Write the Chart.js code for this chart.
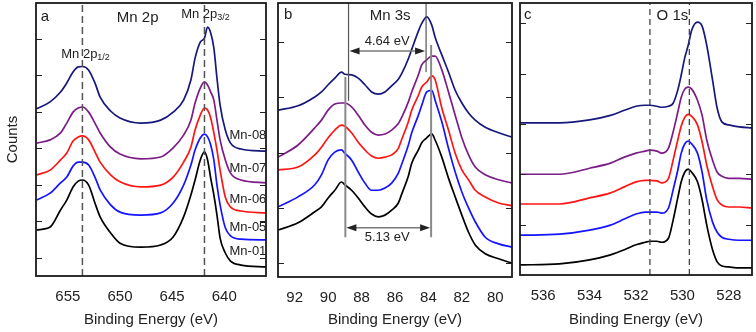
<!DOCTYPE html>
<html>
<head>
<meta charset="utf-8">
<script src="https://cdn.jsdelivr.net/npm/chart.js@4.4.0/dist/chart.umd.min.js"></script>
<style>
    body { margin: 0; background: #fff; }
    #wrap { position: relative; width: 756px; height: 332px; }
    canvas { position: absolute; top: 0; }
</style>
</head>
<body>
<div id="wrap">
    <canvas id="mn2p" width="270" height="332" style="left:0"></canvas>
    <canvas id="mn3s" width="246" height="332" style="left:270px"></canvas>
    <canvas id="o1s" width="240" height="332" style="left:516px"></canvas>
</div>
<script>
// samples, bottom to top
const samples = ['Mn-01', 'Mn-05', 'Mn-06', 'Mn-07', 'Mn-08'];

// panel a - Mn 2p
const mn2pEnergy = [658.0, 656.7, 655.7, 655.1, 654.5, 654.0, 653.6, 653.0, 652.4, 651.9, 650.9, 650.0, 648.0, 646.1, 644.9, 643.9, 643.2, 642.8, 642.3, 641.9, 641.6, 641.3, 641.0, 640.7, 640.4, 639.9, 639.4, 638.4, 636.0];
const mn2pMn01 = [12.6, 13.4, 18.1, 20.8, 24.4, 26.0, 26.3, 24.9, 20.0, 16.2, 11.8, 9.0, 7.9, 8.5, 10.7, 16.2, 22.2, 26.3, 31.8, 34.0, 31.8, 26.8, 22.2, 16.7, 10.4, 6.3, 4.1, 3.0, 2.5];
const mn2pMn05 = [20.8, 22.7, 25.5, 27.1, 30.1, 31.2, 31.2, 30.4, 27.1, 23.6, 19.5, 17.5, 16.7, 17.3, 20.0, 24.9, 30.4, 34.5, 37.8, 38.9, 38.1, 35.9, 31.8, 24.9, 19.5, 13.2, 11.0, 10.1, 9.9];
const mn2pMn06 = [27.7, 29.0, 31.8, 33.7, 37.0, 38.1, 38.4, 37.3, 34.0, 31.2, 27.7, 25.8, 24.4, 24.9, 27.1, 31.2, 35.3, 40.0, 44.1, 46.0, 45.5, 43.3, 39.2, 34.5, 29.0, 21.6, 18.9, 17.8, 17.3];
const mn2pMn07 = [36.4, 37.3, 39.2, 41.9, 44.9, 46.0, 46.3, 44.9, 41.9, 39.2, 35.3, 33.4, 32.1, 32.6, 35.1, 38.6, 42.7, 47.4, 51.5, 53.2, 52.3, 50.4, 48.2, 42.7, 37.3, 31.8, 28.2, 26.3, 25.5];
const mn2pMn08 = [45.8, 47.7, 50.4, 52.9, 55.9, 57.3, 57.4, 56.4, 52.9, 49.0, 45.2, 43.3, 41.9, 42.7, 44.9, 48.2, 53.7, 59.7, 64.1, 65.2, 68.2, 66.6, 62.5, 54.2, 46.8, 40.0, 36.4, 34.8, 34.2];
const mn2pPeaks = [653.6, 641.9];
const mn2pXTicks = [655, 650, 645, 640];
const mn2pYTicks = [5, 15, 25, 35, 45, 55, 65];

// panel b - Mn 3s
const mn3sEnergy = [93.0, 91.8, 90.8, 90.4, 90.0, 89.6, 89.2, 89.0, 88.6, 88.2, 87.8, 87.4, 87.0, 86.6, 86.2, 85.8, 85.6, 85.2, 85.0, 84.6, 84.4, 84.1, 83.8, 83.6, 83.2, 82.8, 82.4, 82.0, 81.6, 81.2, 80.6, 79.8, 79.0];
const mn3sMn01 = [8.5, 9.8, 11.8, 12.7, 14.3, 15.7, 17.2, 16.7, 15.7, 14.3, 12.7, 11.4, 10.9, 11.2, 12.1, 13.4, 15.0, 18.3, 20.6, 23.0, 24.3, 25.2, 25.9, 24.8, 21.7, 17.9, 14.5, 11.2, 8.1, 5.8, 4.2, 3.3, 2.5];
const mn3sMn05 = [12.7, 14.5, 16.7, 18.5, 21.2, 22.6, 23.0, 22.4, 21.2, 19.0, 17.0, 15.7, 15.7, 16.1, 17.0, 18.8, 20.4, 23.9, 26.1, 29.3, 31.1, 33.5, 33.8, 32.0, 28.1, 23.3, 19.0, 15.4, 12.5, 10.0, 7.2, 6.0, 5.4];
const mn3sMn06 = [19.4, 19.9, 22.1, 23.5, 25.2, 26.6, 27.5, 27.3, 26.1, 24.4, 23.0, 21.9, 21.5, 21.7, 22.1, 23.3, 24.9, 28.1, 30.2, 32.9, 34.4, 35.3, 36.4, 35.7, 30.6, 26.6, 22.4, 19.4, 17.6, 15.7, 14.5, 13.4, 12.9];
const mn3sMn07 = [21.7, 23.9, 27.0, 28.4, 30.2, 31.3, 31.5, 31.5, 30.8, 29.3, 27.5, 26.2, 25.7, 25.9, 26.6, 27.8, 28.9, 31.7, 33.5, 36.6, 38.4, 39.3, 40.0, 40.0, 37.5, 33.5, 29.3, 25.2, 22.1, 19.9, 18.5, 17.6, 17.0];
const mn3sMn08 = [30.2, 31.0, 32.6, 33.5, 34.8, 36.0, 37.1, 36.7, 36.6, 36.0, 34.8, 33.5, 33.1, 33.5, 34.6, 35.8, 36.8, 39.5, 41.2, 44.5, 45.9, 47.1, 45.6, 43.4, 40.2, 37.1, 33.8, 31.5, 29.7, 28.4, 27.1, 26.1, 25.3];
const mn3sSplitTop = [88.78, 84.14];   // 4.64 eV
const mn3sSplitBottom = [88.97, 83.84]; // 5.13 eV
const mn3sXTicks = [92, 90, 88, 86, 84, 82, 80];
const mn3sYTicks = [2.5, 12.5, 22.5, 32.5, 42.5];

// panel c - O 1s
const o1sEnergy = [537.0, 535.3, 534.0, 533.1, 532.5, 532.0, 531.6, 531.4, 531.1, 530.9, 530.6, 530.4, 530.2, 530.05, 529.9, 529.75, 529.6, 529.35, 529.15, 528.95, 528.7, 528.5, 528.3, 528.0, 527.55, 527.0];
const o1sMn01 = [2.0, 2.2, 3.0, 4.0, 5.0, 6.0, 6.5, 6.7, 6.7, 6.5, 7.3, 10.9, 15.3, 18.5, 20.4, 21.0, 20.4, 18.5, 14.9, 9.9, 5.0, 2.6, 1.8, 1.6, 1.4, 1.4];
const o1sMn05 = [7.9, 8.1, 8.9, 9.9, 11.1, 12.1, 12.5, 12.5, 12.5, 12.3, 13.3, 16.9, 20.8, 24.2, 26.0, 26.6, 26.0, 24.2, 20.4, 14.9, 10.5, 8.5, 7.5, 7.1, 6.9, 6.9];
const o1sMn06 = [14.1, 14.1, 15.3, 16.3, 17.5, 18.5, 18.8, 18.8, 18.7, 18.3, 19.2, 22.8, 26.8, 29.6, 31.3, 31.9, 31.5, 29.8, 26.4, 21.8, 17.5, 14.9, 13.9, 13.5, 13.5, 13.3];
const o1sMn07 = [20.0, 20.0, 21.2, 22.2, 23.4, 24.2, 24.6, 24.8, 24.6, 24.2, 25.2, 28.4, 32.3, 35.3, 36.9, 37.3, 36.9, 34.7, 31.7, 26.8, 22.8, 20.4, 19.6, 19.2, 19.2, 19.0];
const o1sMn08 = [30.2, 30.2, 30.8, 31.7, 32.7, 33.5, 33.7, 33.7, 33.5, 33.3, 33.5, 34.1, 36.7, 39.7, 43.1, 45.6, 48.6, 50.2, 49.4, 45.6, 38.7, 33.1, 30.4, 29.8, 29.4, 29.2];
const o1sPeaks = [531.4, 529.7];
const o1sXTicks = [536, 534, 532, 530, 528];
const o1sYTicks = [10, 20, 30, 40, 50];

const lineColors = ['#000000', '#1414ff', '#ff1414', '#7c1c88', '#17177c'];
const FONT = "'Liberation Sans', Arial, sans-serif";

function spectra(xs, sets) {
    return sets.map((ys, i) => ({
        label: samples[i],
        data: xs.map((x, k) => ({ x: x, y: ys[k] })),
        borderColor: lineColors[i],
        borderWidth: 1.7,
        pointRadius: 0,
        cubicInterpolationMode: 'monotone',
        order: 5 - i
    }));
}

function vline(x, y1, y2, color, width, dash) {
    return {
        data: [{ x: x, y: y1 }, { x: x, y: y2 }],
        borderColor: color,
        borderWidth: width,
        borderDash: dash || [],
        pointRadius: 0,
        tension: 0,
        order: 0
    };
}

// frame, inner ticks, arrows and labels
const frame = {
    id: 'frame',
    afterDraw(chart, args, o) {
        const { ctx, chartArea: a } = chart;
        const x = chart.scales.x, y = chart.scales.y;
        ctx.save();
        ctx.strokeStyle = '#222';
        ctx.lineWidth = 1.2;
        (o.yTicks || []).forEach(v => {
            const py = Math.round(y.getPixelForValue(v)) + 0.5;
            ctx.beginPath();
            ctx.moveTo(a.left, py); ctx.lineTo(a.left + 6, py);
            ctx.moveTo(a.right, py); ctx.lineTo(a.right - 6, py);
            ctx.stroke();
        });
        ctx.lineWidth = 1.8;
        ctx.strokeStyle = '#1a1a1a';
        ctx.strokeRect(a.left, a.top, a.right - a.left, a.bottom - a.top);

        (o.arrows || []).forEach(r => {
            const x1 = x.getPixelForValue(r.x1), x2 = x.getPixelForValue(r.x2);
            const py = y.getPixelForValue(r.y);
            ctx.strokeStyle = '#7a7a7a';
            ctx.lineWidth = 1.5;
            ctx.beginPath(); ctx.moveTo(x1 + 6, py); ctx.lineTo(x2 - 6, py); ctx.stroke();
            ctx.fillStyle = '#222';
            ctx.beginPath();
            ctx.moveTo(x1 + 1, py); ctx.lineTo(x1 + 11, py - 3.5); ctx.lineTo(x1 + 11, py + 3.5);
            ctx.closePath(); ctx.fill();
            ctx.beginPath();
            ctx.moveTo(x2 - 1, py); ctx.lineTo(x2 - 11, py - 3.5); ctx.lineTo(x2 - 11, py + 3.5);
            ctx.closePath(); ctx.fill();
        });

        (o.texts || []).forEach(t => {
            const px = x.getPixelForValue(t.x), py = y.getPixelForValue(t.y);
            const main = t.size + 'px ' + FONT, small = Math.round(t.size * 0.72) + 'px ' + FONT;
            ctx.font = main;
            const w = ctx.measureText(t.text).width;
            let sw = 0;
            if (t.sub) { ctx.font = small; sw = ctx.measureText(t.sub).width; }
            const left = t.center ? px - (w + sw) / 2 : px;
            ctx.fillStyle = '#222';
            ctx.textAlign = 'left';
            ctx.textBaseline = 'middle';
            ctx.font = main;
            ctx.fillText(t.text, left, py);
            if (t.sub) {
                ctx.font = small;
                ctx.fillText(t.sub, left + w, py + t.size * 0.3);
            }
        });
        ctx.restore();
    }
};

function makeChart(id, c) {
    return new Chart(document.getElementById(id), {
        type: 'line',
        data: { datasets: c.datasets },
        options: {
            responsive: false,
            animation: false,
            devicePixelRatio: 1,
            layout: { padding: c.padding },
            plugins: {
                legend: { display: false },
                tooltip: { enabled: false },
                frame: { yTicks: c.yTicks, texts: c.texts, arrows: c.arrows || [] }
            },
            scales: {
                x: {
                    type: 'linear', reverse: true, min: c.xMin, max: c.xMax,
                    grid: { display: false }, border: { display: false },
                    ticks: { color: '#222', padding: 4, font: { family: FONT, size: 15 } },
                    afterBuildTicks: s => { s.ticks = c.xTicks.map(v => ({ value: v })); },
                    title: { display: true, text: 'Binding Energy (eV)', color: '#222',
                             font: { family: FONT, size: 15 }, padding: { top: 0, bottom: 3 } },
                    afterFit: s => { s.height = c.xHeight; }
                },
                y: {
                    type: 'linear', min: c.yMin, max: c.yMax, display: !!c.yTitle,
                    grid: { display: false }, border: { display: false },
                    ticks: { display: false },
                    title: { display: !!c.yTitle, text: c.yTitle || '', color: '#222',
                             font: { family: FONT, size: 15 }, padding: { top: 4, bottom: 0 } },
                    afterFit: s => { s.width = c.yWidth || 0; }
                }
            }
        },
        plugins: [frame]
    });
}

makeChart('mn2p', {
    datasets: spectra(mn2pEnergy, [mn2pMn01, mn2pMn05, mn2pMn06, mn2pMn07, mn2pMn08])
        .concat(mn2pPeaks.map(e => vline(e, 0, 74.8, '#555', 1.5, [7, 4]))),
    xMin: 636.0, xMax: 658.05, xTicks: mn2pXTicks, xHeight: 56,
    yMin: 0, yMax: 74.8, yTicks: mn2pYTicks,
    yTitle: 'Counts', yWidth: 36,
    padding: { left: 0, right: 4, top: 3, bottom: 0 },
    texts: [
        { text: 'a', x: 657.6, y: 71, size: 15 },
        { text: 'Mn 2p', x: 648.3, y: 70.7, size: 15, center: true },
        { text: 'Mn 2p', sub: '3/2', x: 641.8, y: 71.8, size: 13, center: true },
        { text: 'Mn 2p', sub: '1/2', x: 653.3, y: 60.8, size: 13, center: true },
        { text: samples[4], x: 639.5, y: 38.6, size: 13 },
        { text: samples[3], x: 639.5, y: 29.6, size: 13 },
        { text: samples[2], x: 639.5, y: 21.1, size: 13 },
        { text: samples[1], x: 639.5, y: 13.2, size: 13 },
        { text: samples[0], x: 639.5, y: 6.8, size: 13 }
    ]
});

makeChart('mn3s', {
    datasets: spectra(mn3sEnergy, [mn3sMn01, mn3sMn05, mn3sMn06, mn3sMn07, mn3sMn08]).concat([
        vline(mn3sSplitTop[0], 31.9, 49.6, '#555', 1.2),
        vline(mn3sSplitTop[1], 37.1, 49.6, '#555', 1.2),
        vline(mn3sSplitBottom[0], 7.2, 36.2, '#8a8a8a', 2),
        vline(mn3sSplitBottom[1], 7.2, 42.0, '#8a8a8a', 2)
    ]),
    xMin: 79.0, xMax: 93.0, xTicks: mn3sXTicks, xHeight: 55,
    yMin: 0, yMax: 49.6, yTicks: mn3sYTicks,
    padding: { left: 8, right: 4, top: 3, bottom: 0 },
    arrows: [
        { x1: mn3sSplitTop[0], x2: mn3sSplitTop[1], y: 40.9 },
        { x1: mn3sSplitBottom[0], x2: mn3sSplitBottom[1], y: 8.9 }
    ],
    texts: [
        { text: 'b', x: 92.64, y: 47.4, size: 15 },
        { text: 'Mn 3s', x: 86.29, y: 47.2, size: 15, center: true },
        { text: '4.64 eV', x: 86.47, y: 42.6, size: 13, center: true },
        { text: '5.13 eV', x: 86.47, y: 7.2, size: 13, center: true }
    ]
});

makeChart('o1s', {
    datasets: spectra(o1sEnergy, [o1sMn01, o1sMn05, o1sMn06, o1sMn07, o1sMn08])
        .concat(o1sPeaks.map(e => vline(e, 0, 54, '#444', 1.3, [6, 4]))),
    xMin: 527.0, xMax: 537.0, xTicks: o1sXTicks, xHeight: 57,
    yMin: 0, yMax: 54, yTicks: o1sYTicks,
    padding: { left: 4, right: 4, top: 3, bottom: 0 },
    texts: [
        { text: 'c', x: 536.83, y: 51.6, size: 15 },
        { text: 'O 1s', x: 530.43, y: 51.4, size: 15, center: true }
    ]
});
</script>
</body>
</html>
